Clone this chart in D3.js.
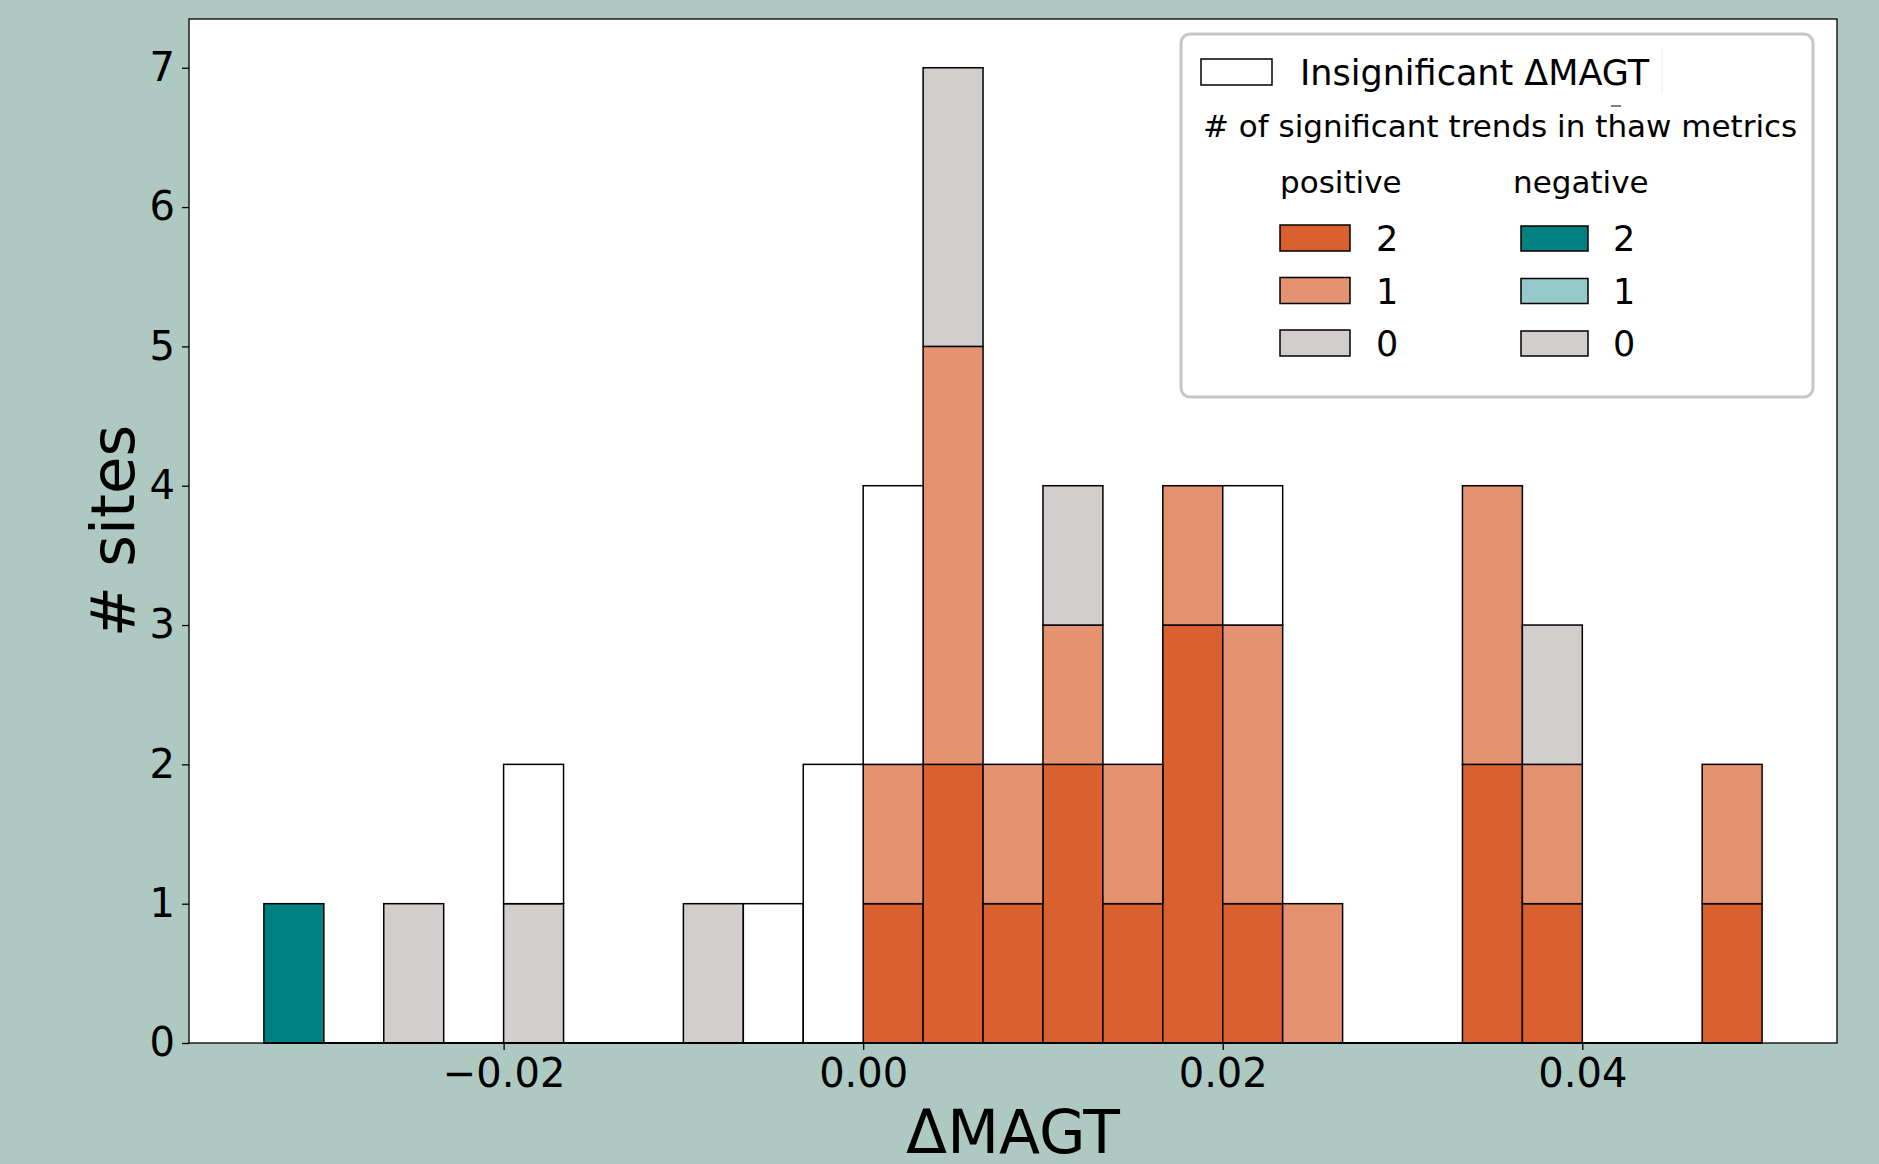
<!DOCTYPE html>
<html>
<head>
<meta charset="utf-8">
<script src="https://cdn.jsdelivr.net/npm/d3@7"></script>
<style>
  body { margin: 0; background: #aec8c2; }
  svg { display: block; font-family: 'DejaVu Sans', sans-serif; }
</style>
</head>
<body>
<div id="container"></div>
<script>
// histogram bins: 25 bins of width 1/300 starting at -1/30
const binStart = -1 / 30;
const binWidth = 1 / 300;

// counts per bin for each class (stack order bottom -> top)
const negTwo  = [1,0,0,0,0,0,0,0,0,0,0,0,0,0,0,0,0,0,0,0,0,0,0,0,0];
const negOne  = [0,0,0,0,0,0,0,0,0,0,0,0,0,0,0,0,0,0,0,0,0,0,0,0,0];
const posTwo  = [0,0,0,0,0,0,0,0,0,0,1,2,1,2,1,3,1,0,0,0,2,1,0,0,1];
const posOne  = [0,0,0,0,0,0,0,0,0,0,1,3,1,1,1,1,2,1,0,0,2,1,0,0,1];
const negZero = [0,0,1,0,1,0,0,1,0,0,0,0,0,0,0,0,0,0,0,0,0,0,0,0,0];
const posZero = [0,0,0,0,0,0,0,0,0,0,0,2,0,1,0,0,0,0,0,0,0,1,0,0,0];
const insig   = [0,0,0,0,1,0,0,0,1,2,2,0,0,0,0,0,1,0,0,0,0,0,0,0,0];

const keys = ['negTwo', 'negOne', 'posTwo', 'posOne', 'negZero', 'posZero', 'insig'];
const colors = {
  negTwo: '#008080', negOne: '#96caca',
  posTwo: '#d8612f', posOne: '#e49270',
  negZero: '#d2cecd', posZero: '#d2cecd',
  insig: '#ffffff'
};

const xTicks = [-0.02, 0, 0.02, 0.04];
const yTicks = [0, 1, 2, 3, 4, 5, 6, 7];

const WIDTH = 1879;
const HEIGHT = 1164;
const plotLeft = 189, plotRight = 1837, plotTop = 19, plotBottom = 1043;

const table = negTwo.map((_, i) => ({
  x0: binStart + i * binWidth,
  negTwo: negTwo[i], negOne: negOne[i], posTwo: posTwo[i], posOne: posOne[i],
  negZero: negZero[i], posZero: posZero[i], insig: insig[i]
}));

const x = d3.scaleLinear().domain([-0.0375, 0.054167]).range([plotLeft, plotRight]);
const y = d3.scaleLinear().domain([0, 7.35]).range([plotBottom, plotTop]);

const svg = d3.select('#container').append('svg').attr('width', WIDTH).attr('height', HEIGHT);

svg.append('rect').attr('width', WIDTH).attr('height', HEIGHT).attr('fill', '#aec8c2');
svg.append('rect')
  .attr('x', plotLeft).attr('y', plotTop)
  .attr('width', plotRight - plotLeft).attr('height', plotBottom - plotTop)
  .attr('fill', '#ffffff');

const series = d3.stack().keys(keys)(table);

const layers = svg.append('g').selectAll('g').data(series).join('g')
  .attr('fill', (s) => colors[s.key]);

layers.selectAll('rect')
  .data((s) => s.filter((d) => d[1] > d[0]))
  .join('rect')
  .attr('x', (d) => x(d.data.x0))
  .attr('width', (d) => x(d.data.x0 + binWidth) - x(d.data.x0))
  .attr('y', (d) => y(d[1]))
  .attr('height', (d) => y(d[0]) - y(d[1]))
  .attr('stroke', '#000')
  .attr('stroke-width', 1.5);

// zero-height bars still leave their edge on the baseline
svg.append('line')
  .attr('x1', x(binStart)).attr('x2', x(binStart + 25 * binWidth))
  .attr('y1', y(0)).attr('y2', y(0))
  .attr('stroke', '#000').attr('stroke-width', 2);

// spines
svg.append('rect')
  .attr('x', plotLeft).attr('y', plotTop)
  .attr('width', plotRight - plotLeft).attr('height', plotBottom - plotTop)
  .attr('fill', 'none').attr('stroke', '#000').attr('stroke-width', 1.3);

const xAxis = svg.append('g')
  .attr('transform', `translate(0,${plotBottom})`)
  .call(d3.axisBottom(x).tickValues(xTicks).tickFormat(d3.format('.2f')).tickSize(7).tickPadding(9));
const yAxis = svg.append('g')
  .attr('transform', `translate(${plotLeft},0)`)
  .call(d3.axisLeft(y).tickValues(yTicks).tickFormat(d3.format('d')).tickSize(7).tickPadding(7));

[xAxis, yAxis].forEach((a) => {
  a.select('.domain').remove();
  a.selectAll('line').attr('stroke', '#000').attr('stroke-width', 1.3);
  a.selectAll('text').attr('font-size', 40).attr('font-family', 'DejaVu Sans').attr('fill', '#000');
});

svg.append('text')
  .attr('x', (plotLeft + plotRight) / 2).attr('y', 1153)
  .attr('text-anchor', 'middle').attr('font-size', 60)
  .text('ΔMAGT');

svg.append('text')
  .attr('transform', `translate(134,${(plotTop + plotBottom) / 2}) rotate(-90)`)
  .attr('text-anchor', 'middle').attr('font-size', 61)
  .text('# sites');

// legend
const legend = svg.append('g');
legend.append('rect')
  .attr('x', 1181).attr('y', 34).attr('width', 632).attr('height', 363)
  .attr('rx', 9).attr('fill', '#fff').attr('stroke', '#c6c6c6').attr('stroke-width', 3);

legend.append('rect')
  .attr('x', 1201).attr('y', 59).attr('width', 71).attr('height', 26)
  .attr('fill', '#fff').attr('stroke', '#000').attr('stroke-width', 1.5);
legend.append('text').attr('x', 1300).attr('y', 85).attr('font-size', 35).text('Insignificant ΔMAGT');
legend.append('line').attr('x1', 1662).attr('x2', 1662).attr('y1', 47).attr('y2', 93)
  .attr('stroke', '#eeeeee').attr('stroke-width', 1);

legend.append('text').attr('x', 1203).attr('y', 137).attr('font-size', 31)
  .text('# of significant trends in thaw metrics');
legend.append('line').attr('x1', 1611).attr('x2', 1621).attr('y1', 106).attr('y2', 106)
  .attr('stroke', '#555').attr('stroke-width', 1.5);

legend.append('text').attr('x', 1280).attr('y', 193).attr('font-size', 31).text('positive');
legend.append('text').attr('x', 1513).attr('y', 193).attr('font-size', 31).text('negative');

const legendRows = [
  { label: '2', pos: 'posTwo', neg: 'negTwo', y: 225 },
  { label: '1', pos: 'posOne', neg: 'negOne', y: 277.5 },
  { label: '0', pos: 'posZero', neg: 'negZero', y: 330 }
];

const rows = legend.selectAll('.row').data(legendRows).join('g').attr('class', 'row');
rows.append('rect')
  .attr('x', 1280).attr('y', (d) => d.y).attr('width', 70).attr('height', 26)
  .attr('fill', (d) => colors[d.pos]).attr('stroke', '#000').attr('stroke-width', 1.5);
rows.append('text')
  .attr('x', 1376).attr('y', (d) => d.y + 26).attr('font-size', 35).text((d) => d.label);
rows.append('rect')
  .attr('x', 1521).attr('y', (d) => d.y + 1).attr('width', 67).attr('height', 25)
  .attr('fill', (d) => colors[d.neg]).attr('stroke', '#000').attr('stroke-width', 1.5);
rows.append('text')
  .attr('x', 1613).attr('y', (d) => d.y + 26).attr('font-size', 35).text((d) => d.label);
</script>
</body>
</html>
